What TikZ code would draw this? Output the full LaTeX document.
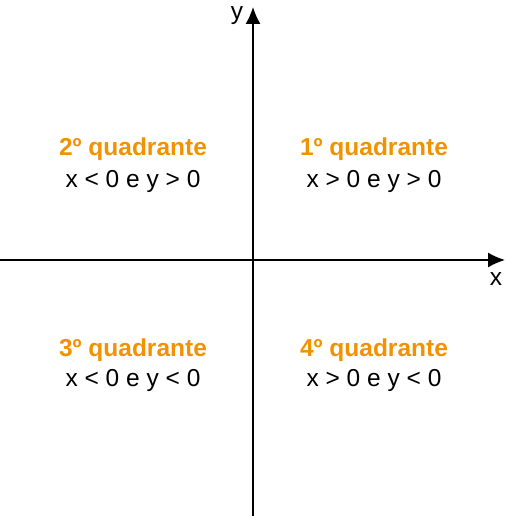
\documentclass[tikz,border=0pt]{standalone}
\usepackage{fontspec}
\setmainfont{Liberation Sans}
\usetikzlibrary{arrows.meta}
\definecolor{quadorange}{HTML}{F39200}
\begin{document}
\begin{tikzpicture}[x=1pt, y=1pt, every node/.style={font=\fontsize{24.5}{28}\selectfont},
    eixo/.style={line width=1.4pt, -{Latex[length=17pt, width=15pt]}},
    titulo/.style={text=quadorange, font=\fontsize{24.5}{28}\selectfont\bfseries},
    cond/.style={text=black}]
  \useasboundingbox (0,0) rectangle (506,516);
  % eixos
  \coordinate (xini) at (0,256);
  \coordinate (xfim) at (505,256);
  \coordinate (yini) at (253,0);
  \coordinate (yfim) at (253,509);
  \draw[eixo] (xini) -- (xfim);
  \draw[eixo] (yini) -- (yfim);
  \node (lx) at (496,237) {x};
  \node (ly) at (237,500) {y};
  % quadrantes
  \node[titulo] (q1) at (374,367) {1º quadrante};
  \node[cond]   (c1) at (374,335) {x > 0 e y > 0};
  \node[titulo] (q2) at (133,367) {2º quadrante};
  \node[cond]   (c2) at (133,335) {x < 0 e y > 0};
  \node[titulo] (q3) at (133,166) {3º quadrante};
  \node[cond]   (c3) at (133,136) {x < 0 e y < 0};
  \node[titulo] (q4) at (374,166) {4º quadrante};
  \node[cond]   (c4) at (374,136) {x > 0 e y < 0};
\end{tikzpicture}
\end{document}
